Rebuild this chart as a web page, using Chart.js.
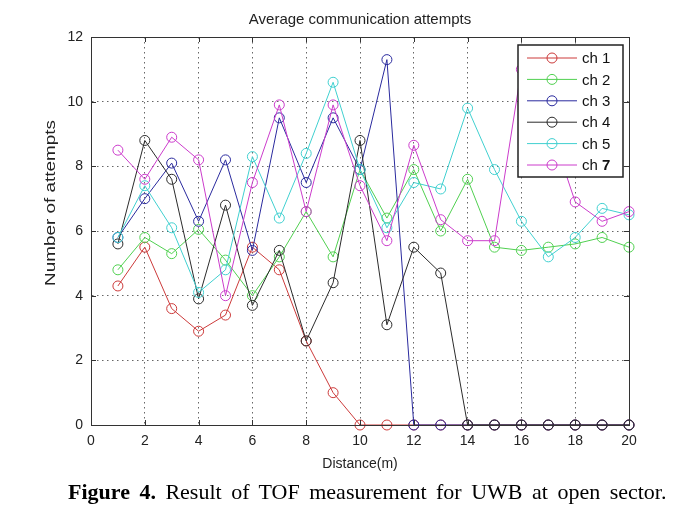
<!DOCTYPE html>
<html>
<head>
<meta charset="utf-8">
<script src="https://cdn.jsdelivr.net/npm/chart.js@4.4.1/dist/chart.umd.min.js"></script>
<style>
  body { margin: 0; background: #fff; }
  #wrap { position: relative; width: 683px; height: 513px; overflow: hidden; }
  #chart { position: absolute; left: 0; top: 0; }
  #caption {
    position: absolute; left: 68px; top: 479px;
    font-family: "Liberation Serif", "Times New Roman", serif;
    font-size: 22px; word-spacing: 4px; white-space: nowrap; color: #000;
  }
</style>
</head>
<body>
<div id="wrap">
  <canvas id="chart" width="683" height="480"></canvas>
  <div id="caption"><b>Figure 4.</b> Result of TOF measurement for UWB at open sector.</div>
</div>
<script>
const distance = [1, 2, 3, 4, 5, 6, 7, 8, 9, 10, 11, 12, 13, 14, 15, 16, 17, 18, 19, 20];
const ch1 = [4.3, 5.5, 3.6, 2.9, 3.4, 5.5, 4.8, 2.6, 1.0, 0, 0, 0, 0, 0, 0, 0, 0, 0, 0, 0];
const ch2 = [4.8, 5.8, 5.3, 6.05, 5.1, 4.0, 5.2, 6.6, 5.2, 7.9, 6.4, 7.9, 6.0, 7.6, 5.5, 5.4, 5.5, 5.6, 5.8, 5.5];
const ch3 = [5.8, 7.0, 8.1, 6.3, 8.2, 5.4, 9.5, 7.5, 9.5, 7.9, 11.3, 0, 0, 0, 0, 0, 0, 0, 0, 0];
const ch4 = [5.6, 8.8, 7.6, 3.9, 6.8, 3.7, 5.4, 2.6, 4.4, 8.8, 3.1, 5.5, 4.7, 0, 0, 0, 0, 0, 0, 0];
const ch5 = [5.8, 7.4, 6.1, 4.1, 4.8, 8.3, 6.4, 8.4, 10.6, 7.9, 6.1, 7.5, 7.3, 9.8, 7.9, 6.3, 5.2, 5.8, 6.7, 6.5];
const ch7 = [8.5, 7.6, 8.9, 8.2, 4.0, 7.5, 9.9, 6.6, 9.9, 7.4, 5.7, 8.65, 6.35, 5.7, 5.7, 11.0, 9.4, 6.9, 6.3, 6.6];

const seriesNames = ['ch 1', 'ch 2', 'ch 3', 'ch 4', 'ch 5', 'ch 7'];
const seriesValues = [ch1, ch2, ch3, ch4, ch5, ch7];
const seriesColors = ['#cc3a3a', '#50d050', '#2a2a9e', '#2b2b2b', '#40d0d0', '#cc3ccc'];
const xTicks = [0, 2, 4, 6, 8, 10, 12, 14, 16, 18, 20];
const yTicks = [0, 2, 4, 6, 8, 10, 12];

const datasets = seriesValues.map((vals, i) => ({
    label: seriesNames[i],
    data: vals.map((v, j) => ({x: distance[j], y: v})),
    borderColor: seriesColors[i],
    backgroundColor: 'rgba(0,0,0,0)',
    borderWidth: 1,
    pointRadius: 5,
    pointBorderWidth: 1,
    pointStyle: 'circle',
    tension: 0,
    clip: false,
    order: seriesValues.length - i   // later series on top, like matlab
}));

// matlab style box, inward ticks, y label and legend
const matlabBits = {
    id: 'matlabBits',
    afterDatasetsDraw(chart) {
        const ctx = chart.ctx;
        const a = chart.chartArea;
        const xs = chart.scales.x, ys = chart.scales.y;
        ctx.save();
        ctx.strokeStyle = '#333';
        ctx.lineWidth = 1;
        ctx.strokeRect(a.left + 0.5, a.top + 0.5, a.right - a.left, a.bottom - a.top);
        ctx.beginPath();
        xTicks.forEach(t => {
            const px = Math.round(xs.getPixelForValue(t)) + 0.5;
            ctx.moveTo(px, a.top); ctx.lineTo(px, a.top + 5);
            ctx.moveTo(px, a.bottom); ctx.lineTo(px, a.bottom - 5);
        });
        yTicks.forEach(t => {
            const py = Math.round(ys.getPixelForValue(t)) + 0.5;
            ctx.moveTo(a.left, py); ctx.lineTo(a.left + 5, py);
            ctx.moveTo(a.right, py); ctx.lineTo(a.right - 5, py);
        });
        ctx.stroke();

        // y axis label, stretched like the source picture
        ctx.fillStyle = '#222';
        ctx.font = '14px "Liberation Sans", Arial, sans-serif';
        ctx.textAlign = 'center';
        ctx.textBaseline = 'middle';
        ctx.translate(51, 203);
        ctx.rotate(-Math.PI / 2);
        ctx.scale(1.35, 1);
        ctx.fillText('Number of attempts', 0, 0);
        ctx.restore();

        // legend box
        const lx = 518, ly = 45, lw = 105, lh = 132;
        ctx.save();
        ctx.fillStyle = '#fff';
        ctx.fillRect(lx, ly, lw, lh);
        ctx.strokeStyle = '#222';
        ctx.lineWidth = 1.5;
        ctx.strokeRect(lx, ly, lw, lh);
        chart.data.datasets.forEach((ds, i) => {
            const y = 58 + i * 21.4;
            ctx.strokeStyle = ds.borderColor;
            ctx.lineWidth = 1;
            ctx.beginPath();
            ctx.moveTo(527, y); ctx.lineTo(577, y);
            ctx.stroke();
            ctx.beginPath();
            ctx.arc(552, y, 5, 0, Math.PI * 2);
            ctx.stroke();
            ctx.fillStyle = '#111';
            ctx.textAlign = 'left';
            ctx.textBaseline = 'middle';
            const parts = ds.label.split(' ');
            ctx.font = '15px "Liberation Sans", Arial, sans-serif';
            ctx.fillText(parts[0] + ' ', 582, y + 1);
            const w = ctx.measureText(parts[0] + ' ').width;
            if (parts[1] === '7') ctx.font = 'bold 15px "Liberation Sans", Arial, sans-serif';
            ctx.fillText(parts[1], 582 + w, y + 1);
        });
        ctx.restore();
    }
};

new Chart(document.getElementById('chart'), {
    type: 'line',
    data: { datasets },
    plugins: [matlabBits],
    options: {
        responsive: false,
        animation: false,
        layout: { padding: { left: 0, right: 54, top: 0, bottom: 0 } },
        plugins: {
            legend: { display: false },
            tooltip: { enabled: false },
            title: {
                display: true,
                fullSize: false,
                text: 'Average communication attempts',
                color: '#222',
                font: { family: '"Liberation Sans", Arial, sans-serif', size: 15, weight: 'normal', lineHeight: 1.2 },
                padding: { top: 11, bottom: 8 }
            }
        },
        scales: {
            x: {
                type: 'linear',
                min: 0, max: 20,
                afterFit: s => { s.height = 55; },
                afterBuildTicks: s => { s.ticks = xTicks.map(v => ({value: v})); },
                ticks: { color: '#222', padding: 8, font: { family: '"Liberation Sans", Arial, sans-serif', size: 14 } },
                grid: { color: '#666', drawTicks: false, lineWidth: 1 },
                border: { color: '#333', dash: [1.5, 3.5] },
                title: {
                    display: true, text: 'Distance(m)', color: '#222',
                    font: { family: '"Liberation Sans", Arial, sans-serif', size: 14 },
                    padding: { top: 0, bottom: 7 }
                }
            },
            y: {
                type: 'linear',
                min: 0, max: 12,
                afterFit: s => { s.width = 91; },
                afterBuildTicks: s => { s.ticks = yTicks.map(v => ({value: v})); },
                ticks: { color: '#222', padding: 8, font: { family: '"Liberation Sans", Arial, sans-serif', size: 14 } },
                grid: { color: '#666', drawTicks: false, lineWidth: 1 },
                border: { color: '#333', dash: [1.5, 3.5] }
            }
        }
    }
});
</script>
</body>
</html>
